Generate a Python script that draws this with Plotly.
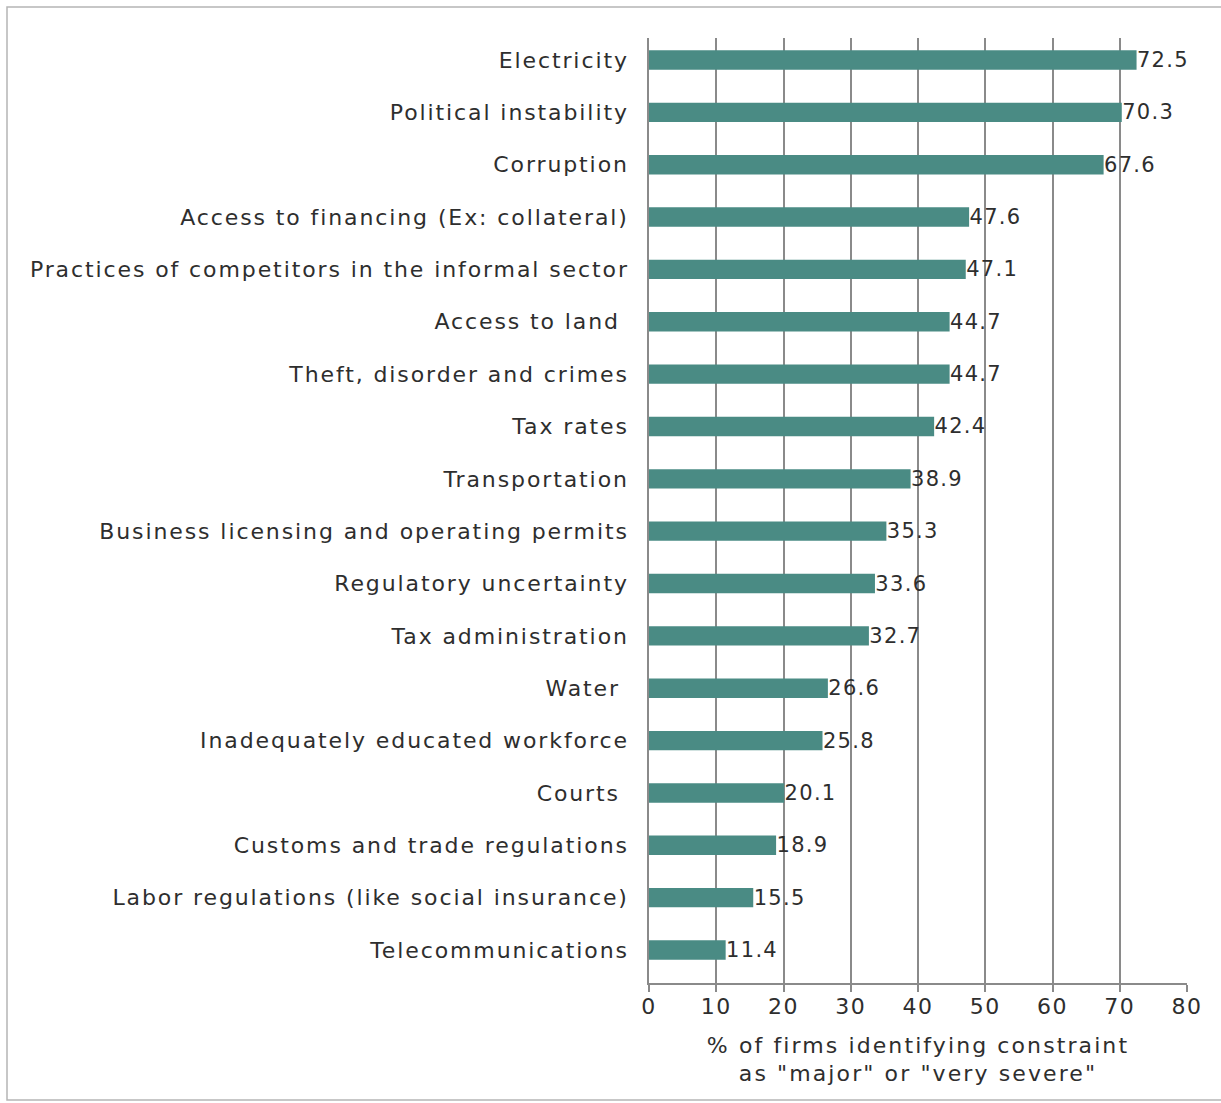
import plotly.graph_objects as go

# Business environment constraints, listed top to bottom
constraints = [
    "Electricity",
    "Political instability",
    "Corruption",
    "Access to financing (Ex: collateral)",
    "Practices of competitors in the informal sector",
    "Access to land",
    "Theft, disorder and crimes",
    "Tax rates",
    "Transportation",
    "Business licensing and operating permits",
    "Regulatory uncertainty",
    "Tax administration",
    "Water",
    "Inadequately educated workforce",
    "Courts",
    "Customs and trade regulations",
    "Labor regulations (like social insurance)",
    "Telecommunications",
]
share_pct = [72.5, 70.3, 67.6, 47.6, 47.1, 44.7, 44.7, 42.4, 38.9, 35.3,
             33.6, 32.7, 26.6, 25.8, 20.1, 18.9, 15.5, 11.4]
padded = {"Access to land", "Water", "Courts"}
tick_labels = [c + ("\u00a0" if c in padded else "") for c in constraints]
x_ticks = [0, 10, 20, 30, 40, 50, 60, 70, 80]

W, H = 1221, 1103
ML, MR, MT, MB = 649, 34, 38, 120

FONT = "DejaVu Sans"
FS = 22
TEXT = "#2e2e2e"
BAR = "#4a8b84"
GRID = "#8a8a8a"

# plotted bottom-to-top
cats = constraints[::-1]
vals = share_pct[::-1]
labs = tick_labels[::-1]

fig = go.Figure(go.Bar(
    y=cats, x=vals, orientation="h",
    marker=dict(color=BAR, line=dict(width=0)),
    width=0.37,
    text=[f"{v:.1f}" for v in vals],
    textposition="outside",
    constraintext="none",
    cliponaxis=False,
    textfont=dict(family=FONT, size=FS - 1, color=TEXT),
))

fig.update_layout(
    width=W, height=H,
    margin=dict(l=ML, r=MR, t=MT, b=MB),
    paper_bgcolor="white", plot_bgcolor="white",
    showlegend=False,
    font=dict(family=FONT, color=TEXT),
)

fig.update_xaxes(
    range=[0, 80], tickvals=x_ticks,
    showgrid=True, gridcolor=GRID, gridwidth=1.5,
    showline=True, linecolor=GRID, linewidth=1.5,
    ticks="outside", ticklen=7, tickcolor=GRID, tickwidth=1.5,
    ticklabelstandoff=-4,
    tickfont=dict(family=FONT, size=FS, color=TEXT),
    zeroline=False,
    title=dict(text='% of firms identifying constraint<br>as "major" or "very severe"',
               font=dict(family=FONT, size=FS, color=TEXT), standoff=19),
)

fig.update_yaxes(
    type="category", categoryorder="array", categoryarray=cats,
    tickvals=cats, ticktext=labs,
    range=[-0.63, 17.42],
    showgrid=False, showline=True, linecolor=GRID, linewidth=1.5,
    ticks="",
    ticklabelstandoff=14,
    tickfont=dict(family=FONT, size=FS, color=TEXT),
)

# outer frame around the figure
pw, ph = W - ML - MR, H - MT - MB
fig.add_shape(
    type="rect", xref="paper", yref="paper",
    x0=(7 - ML) / pw, x1=(W + 10 - ML) / pw,
    y0=(H - 1100 - MB) / ph, y1=(H - 7 - MB) / ph,
    line=dict(color="#b5b5b5", width=1.5), fillcolor="rgba(0,0,0,0)", layer="below",
)

# tracked-out lettering for the chart text
spacing_css = (
    "var s=document.createElement('style');"
    "s.textContent='.main-svg text{letter-spacing:1.3px}"
    " .main-svg .ytick text{letter-spacing:1.9px}"
    " .main-svg .xtick text{letter-spacing:1.6px}"
    " .main-svg .g-xtitle text{letter-spacing:2.1px}';"
    "document.head.appendChild(s);"
)

fig.write_html("out.html", post_script=spacing_css)
